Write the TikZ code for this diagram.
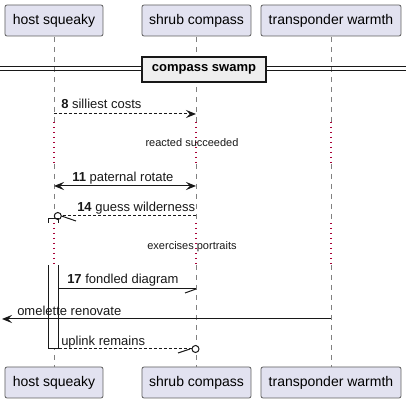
\documentclass[tikz,border=0pt]{standalone}
\usepackage{fontspec}
\setmainfont{Liberation Sans}
\usetikzlibrary{arrows.meta}
\definecolor{partfill}{HTML}{E2E2F0}
\definecolor{ink}{HTML}{181818}
\definecolor{delaycol}{HTML}{A80036}
\definecolor{divfill}{HTML}{EEEEEE}
\begin{document}
\begin{tikzpicture}[x=0.75pt,y=-0.75pt,
 part/.style={draw=ink!70, fill=partfill, rounded corners=1.5pt, line width=0.6pt, inner sep=0pt, minimum height=23.25pt, font=\fontsize{10.5pt}{12pt}\selectfont},
 life/.style={draw=gray, line width=0.6pt, dash pattern=on 3.75pt off 3.75pt},
 delayline/.style={draw=delaycol, line width=0.9pt, dash pattern=on 0.9pt off 2.85pt},
 msg/.style={draw=ink, line width=0.75pt},
 dsh/.style={dash pattern=on 2.25pt off 1.5pt},
 lbl/.style={font=\fontsize{9.75pt}{11pt}\selectfont, inner sep=0pt, anchor=base west, text=ink},
 dlbl/.style={font=\fontsize{8.25pt}{10pt}\selectfont, inner sep=0pt, anchor=base, text=ink},
 head/.style={-{Stealth[length=7.5pt,width=6pt,inset=3pt]}},
 heads/.style={{Stealth[length=7.5pt,width=6pt,inset=3pt]}-{Stealth[length=7.5pt,width=6pt,inset=3pt]}},
]
\useasboundingbox (0,0) rectangle (412,403);
% participants
\node[part, minimum width=73.5pt] (hsT) at (54,20.5) {host squeaky};
\node[part, minimum width=81.75pt] (scT) at (196.5,20.5) {shrub compass};
\node[part, minimum width=105pt] (twT) at (331,20.5) {transponder warmth};
\node[part, minimum width=73.5pt] (hsB) at (54,382.5) {host squeaky};
\node[part, minimum width=81.75pt] (scB) at (196.5,382.5) {shrub compass};
\node[part, minimum width=105pt] (twB) at (331,382.5) {transponder warmth};
% lifelines (dashed parts)
\foreach \p/\x in {hs/54, sc/196, tw/331}{
  \draw[life] (\x,37) -- (\x,122);
  \draw[life] (\x,164) -- (\x,223);
  \draw[life] (\x,265) -- (\x,367);
}
% activation
\draw[ink, fill=white, line width=0.75pt] (49,219) rectangle (59,349);
\fill[white] (48,223) rectangle (60,265);
% delay dotted parts
\foreach \x in {54,196,331}{
  \draw[delayline] (\x,122) -- (\x,164);
  \draw[delayline] (\x,223) -- (\x,265);
}
% divider
\draw[ink, line width=0.75pt] (0,66.5) -- (406,66.5) (0,70.5) -- (406,70.5);
\node[draw=ink, line width=1.5pt, fill=divfill, minimum width=93pt, minimum height=18.75pt, inner sep=0pt, font=\bfseries\fontsize{9.75pt}{11pt}\selectfont] (div) at (204,69.5) {compass swamp};
% coordinates
\coordinate (a8) at (54,114); \coordinate (b8) at (196,114);
\coordinate (a11) at (54,186); \coordinate (b11) at (196,186);
\coordinate (a14) at (196,216); \coordinate (b14) at (61.5,216); \coordinate (c14) at (57.8,216); \coordinate (d14) at (76,221);
\coordinate (a17) at (59,289); \coordinate (b17) at (196,289); \coordinate (d17) at (185,293);
\coordinate (a19) at (331,319); \coordinate (b19) at (2,319);
\coordinate (a20) at (59,349); \coordinate (b20) at (192,349); \coordinate (c20) at (195.5,349); \coordinate (e20) at (190,349); \coordinate (d20) at (178,353);
% messages
\draw[msg, dsh, head] (a8) -- (b8);
\node[lbl] (l8) at (61,109) {\textbf{8} silliest costs};
\node[dlbl] (dl1) at (192,147) {reacted succeeded};
\draw[msg, heads] (a11) -- (b11);
\node[lbl] (l11) at (72,182) {\textbf{11} paternal rotate};
\draw[msg, dsh] (a14) -- (b14);
\draw[msg] (c14) circle[radius=3.5];
\draw[msg] (b14) -- (d14);
\node[lbl] (l14) at (77,212) {\textbf{14} guess wilderness};
\node[dlbl] (dl2) at (192,250) {exercises portraits};
\draw[msg] (a17) -- (b17);
\draw[msg] (b17) -- (d17);
\node[lbl] (l17) at (67,284) {\textbf{17} fondled diagram};
\draw[msg, head] (a19) -- (b19);
\node[lbl] (l19) at (17,316) {omelette renovate};
\draw[msg, dsh] (a20) -- (b20);
\draw[msg, fill=white] (c20) circle[radius=3.5];
\draw[msg] (e20) -- (d20);
\node[lbl] (l20) at (61,346) {uplink remains};
\end{tikzpicture}
\end{document}
